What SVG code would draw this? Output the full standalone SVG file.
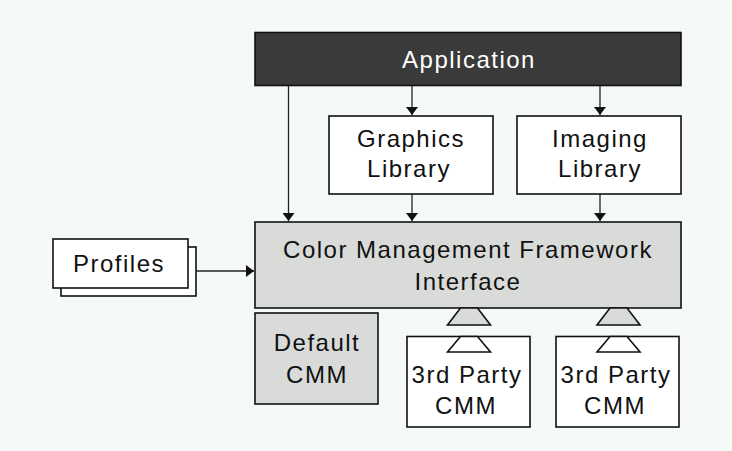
<svg xmlns="http://www.w3.org/2000/svg" width="732" height="451" viewBox="0 0 732 451">
<defs>
<style>
.t{font-family:"Liberation Sans",Arial,sans-serif;font-size:24px;letter-spacing:1.5px;fill:#111;text-anchor:middle}
.box{fill:#fff;stroke:#111;stroke-width:1.6}
.gray{fill:#d9dbd9;stroke:#111;stroke-width:1.6}
.ln{stroke:#222;stroke-width:1.3;fill:none}
</style>
<marker id="ah" viewBox="0 0 8 12" refX="8" refY="6" markerWidth="8" markerHeight="12" markerUnits="userSpaceOnUse" orient="auto">
<path d="M0,0 L8,6 L0,12 z" fill="#111"/>
</marker>
</defs>
<rect width="732" height="451" fill="#f5faf8"/>
<g id="application">
<rect x="255" y="32.5" width="426" height="53" fill="#3a3a3a" stroke="#111" stroke-width="1.6"/>
<text class="t" x="469" y="68" style="fill:#fff">Application</text>
</g>
<g id="graphics">
<rect class="box" x="329" y="116" width="164" height="78"/>
<text class="t" x="411" y="147">Graphics</text>
<text class="t" x="409" y="177">Library</text>
</g>
<g id="imaging">
<rect class="box" x="517" y="116" width="164" height="78"/>
<text class="t" x="600" y="147">Imaging</text>
<text class="t" x="600" y="177">Library</text>
</g>
<g id="cmf">
<rect class="gray" x="255" y="222" width="426" height="86"/>
<text class="t" x="468" y="258">Color Management Framework</text>
<text class="t" x="468" y="290">Interface</text>
</g>
<g id="profiles">
<rect class="box" x="61" y="247" width="135" height="49"/>
<rect class="box" x="53" y="239" width="135" height="49"/>
<text class="t" x="119" y="272">Profiles</text>
</g>
<g id="default">
<rect class="gray" x="255" y="313" width="123" height="91"/>
<text class="t" x="317" y="351">Default</text>
<text class="t" x="317" y="383">CMM</text>
</g>
<g id="party1">
<rect class="box" x="407" y="336.5" width="123" height="90.5"/>
<path class="box" d="M460.5,336.5 L477.5,336.5 L490.5,352 L447.5,352 Z"/>
<text class="t" x="467" y="383">3rd Party</text>
<text class="t" x="466" y="414">CMM</text>
</g>
<g id="party2">
<rect class="box" x="556" y="336.5" width="123" height="90.5"/>
<path class="box" d="M610,336.5 L627,336.5 L640,352 L597,352 Z"/>
<text class="t" x="616" y="383">3rd Party</text>
<text class="t" x="615" y="414">CMM</text>
</g>
<g id="connectors">
<line class="ln" x1="288.5" y1="86" x2="288.5" y2="221" marker-end="url(#ah)"/>
<line class="ln" x1="412" y1="86" x2="412" y2="115" marker-end="url(#ah)"/>
<line class="ln" x1="600" y1="86" x2="600" y2="115" marker-end="url(#ah)"/>
<line class="ln" x1="412" y1="194" x2="412" y2="221" marker-end="url(#ah)"/>
<line class="ln" x1="600" y1="194" x2="600" y2="221" marker-end="url(#ah)"/>
<line class="ln" x1="196" y1="271" x2="254" y2="271" marker-end="url(#ah)"/>
<path class="gray" d="M460.5,308 L477.5,308 L490.5,325 L447.5,325 Z"/>
<path class="gray" d="M610,308 L627,308 L640,325 L597,325 Z"/>
</g>
</svg>
